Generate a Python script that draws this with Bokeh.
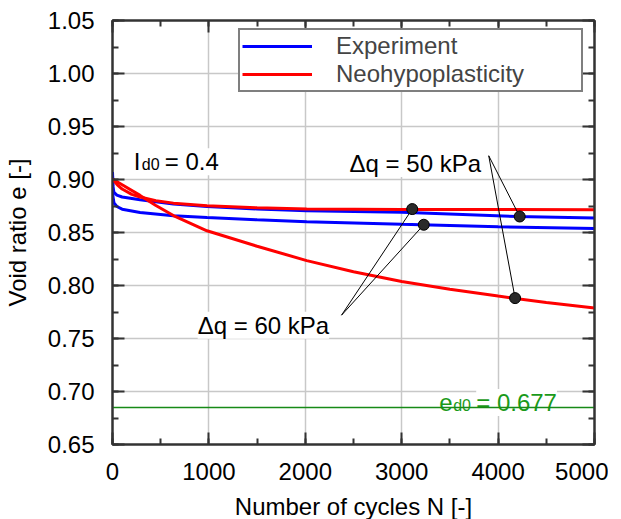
from bokeh.plotting import figure
from bokeh.models import (Legend, LegendItem, LinearAxis, SingleIntervalTicker,
                          PrintfTickFormatter, Range1d, CustomJSTickFormatter)
from bokeh.core.properties import value
from bokeh.embed import file_html
from bokeh.resources import INLINE

# ---------------- data ----------------
# Experiment, upper curve (Delta q = 50 kPa)
n_exp_50 = [0, 5, 15, 45, 100, 286, 632, 980, 1500, 2015, 3000, 4200, 5000]
e_exp_50 = [0.907, 0.893, 0.888, 0.8853, 0.8835, 0.8809, 0.8768, 0.8745, 0.8722,
            0.8705, 0.8690, 0.8650, 0.8636]
# Experiment, lower curve (Delta q = 60 kPa)
n_exp_60 = [0, 5, 15, 45, 100, 286, 632, 980, 1500, 2015, 3000, 4000, 5000]
e_exp_60 = [0.905, 0.884, 0.878, 0.8745, 0.8720, 0.8689, 0.8658, 0.8642, 0.8620,
            0.8601, 0.8577, 0.8554, 0.8538]
# Neohypoplasticity, flat curve (Delta q = 60 kPa)
n_mod_60 = [0, 50, 100, 200, 286, 450, 632, 980, 1500, 2015, 3000, 4000, 5000]
e_mod_60 = [0.9004, 0.8950, 0.8910, 0.8860, 0.8835, 0.8800, 0.8777, 0.8752, 0.8733,
            0.8722, 0.8718, 0.8716, 0.8715]
# Neohypoplasticity, decreasing curve (Delta q = 50 kPa)
n_mod_50 = [0, 100, 286, 450, 632, 980, 1500, 2015, 2500, 3000, 3500, 4000, 4500, 5000]
e_mod_50 = [0.9004, 0.8950, 0.8850, 0.8755, 0.8660, 0.8516, 0.8370, 0.8235, 0.8130,
            0.8038, 0.7965, 0.7900, 0.7840, 0.7787]

e_d0_line = 0.685

# annotation points
mark_n = [3109, 3229, 4224, 4176]
mark_e = [0.8721, 0.8573, 0.8651, 0.7881]
lead50_from = (3903, 0.9224)
lead60_from = (2376, 0.7720)

FONT = "Liberation Sans"
FS = "24px"

p = figure(frame_width=482, frame_height=424, output_backend="svg", toolbar_location=None,
           x_range=Range1d(0, 5000), y_range=Range1d(0.65, 1.05),
           min_border_left=103, min_border_top=20, min_border_right=14, min_border_bottom=72,
           x_axis_label="Number of cycles N [-]", y_axis_label="Void ratio e [-]")
p.outline_line_color = "#333333"
p.outline_line_width = 2

xt = SingleIntervalTicker(interval=1000, num_minor_ticks=2)
yt = SingleIntervalTicker(interval=0.05, num_minor_ticks=2)
p.xaxis.ticker = xt
p.yaxis.ticker = yt
p.xaxis.formatter = PrintfTickFormatter(format="%d")
p.yaxis.formatter = PrintfTickFormatter(format="%.2f")

for ax in (p.xaxis[0], p.yaxis[0]):
    ax.axis_line_color = "#333333"
    ax.axis_line_width = 2
    ax.major_tick_in = 12
    ax.major_tick_out = 0
    ax.minor_tick_in = 6
    ax.minor_tick_out = 0
    ax.major_tick_line_color = "#333333"
    ax.major_tick_line_width = 2
    ax.minor_tick_line_color = "#333333"
    ax.minor_tick_line_width = 2
    ax.major_label_text_font = FONT
    ax.major_label_text_font_size = FS
    ax.major_label_text_color = "black"
    ax.axis_label_text_font = FONT
    ax.axis_label_text_font_size = FS
    ax.axis_label_text_font_style = "normal"
    ax.axis_label_text_color = "black"
p.xaxis.major_label_standoff = 18
p.xaxis.axis_label_standoff = 10
p.yaxis.major_label_standoff = 18
p.yaxis.axis_label_standoff = 14

blank = CustomJSTickFormatter(code="return ''")
for side, tk in (("above", xt), ("right", yt)):
    ax = LinearAxis(ticker=tk, formatter=blank, major_label_text_font_size="1px",
                    axis_line_color="#333333", axis_line_width=2,
                    major_tick_in=12, major_tick_out=0, minor_tick_in=6, minor_tick_out=0,
                    major_tick_line_color="#333333", major_tick_line_width=2,
                    minor_tick_line_color="#333333", minor_tick_line_width=2,
                    major_label_standoff=0)
    p.add_layout(ax, side)

p.grid.grid_line_color = "#c8c8c8"
p.grid.grid_line_width = 1.5

# curves
r_exp1 = p.line(n_exp_50, e_exp_50, line_color="#0000ff", line_width=3)
p.line(n_exp_60, e_exp_60, line_color="#0000ff", line_width=3)
r_mod1 = p.line(n_mod_60, e_mod_60, line_color="#ff0000", line_width=3)
p.line(n_mod_50, e_mod_50, line_color="#ff0000", line_width=3)

# text annotations (with white background)
TXT = dict(text_font=value(FONT), text_baseline="alphabetic", text_align="left")
p.text(x=[221], y=[0.9168], text=["I"], text_font_size="24px", background_fill_color="white", **TXT)
p.text(x=[221], y=[0.9168], text=["d0"], text_font_size="16px", x_offset=8, y_offset=3, **TXT)
p.text(x=[221], y=[0.9168], text=["= 0.4"], text_font_size="24px", x_offset=31,
       background_fill_color="white", **TXT)

p.text(x=[2459], y=[0.915], text=["\u0394q = 50 kPa"], text_font_size="24px",
       background_fill_color="white", **TXT)
p.text(x=[884], y=[0.7626], text=["\u0394q = 60 kPa"], text_font_size="24px",
       background_fill_color="white", **TXT)

GREEN = "#1a9a1a"
p.text(x=[3389], y=[0.6896], text=["e"], text_font_size="24px", text_color=GREEN,
       background_fill_color="white", **TXT)
p.text(x=[3389], y=[0.6896], text=["d0"], text_font_size="16px", text_color=GREEN,
       x_offset=14, y_offset=3, **TXT)
p.text(x=[3389], y=[0.6896], text=["= 0.677"], text_font_size="24px", text_color=GREEN,
       x_offset=37, background_fill_color="white", **TXT)

p.line([0, 5000], [e_d0_line, e_d0_line], line_color="#178a17", line_width=1.5)

# leader lines
p.segment(x0=[lead50_from[0]] * 2, y0=[lead50_from[1]] * 2, x1=mark_n[2:], y1=mark_e[2:],
          line_color="black", line_width=1)
p.segment(x0=[lead60_from[0]] * 2, y0=[lead60_from[1]] * 2, x1=mark_n[:2], y1=mark_e[:2],
          line_color="black", line_width=1)
p.scatter(mark_n, mark_e, size=11, fill_color="#2a2a2a", line_color="black", line_width=1)

legend = Legend(items=[LegendItem(label="Experiment", renderers=[r_exp1]),
                       LegendItem(label="Neohypoplasticity", renderers=[r_mod1])],
                location=(126, 352), label_text_font=FONT, label_text_font_size=FS,
                glyph_width=70, glyph_height=24, label_height=24, label_standoff=24,
                label_width=243, spacing=0, padding=2, margin=0,
                border_line_color="black", border_line_width=2,
                background_fill_color="white", background_fill_alpha=1)
p.add_layout(legend, "center")

open("out.html", "w").write(file_html(p, INLINE))
